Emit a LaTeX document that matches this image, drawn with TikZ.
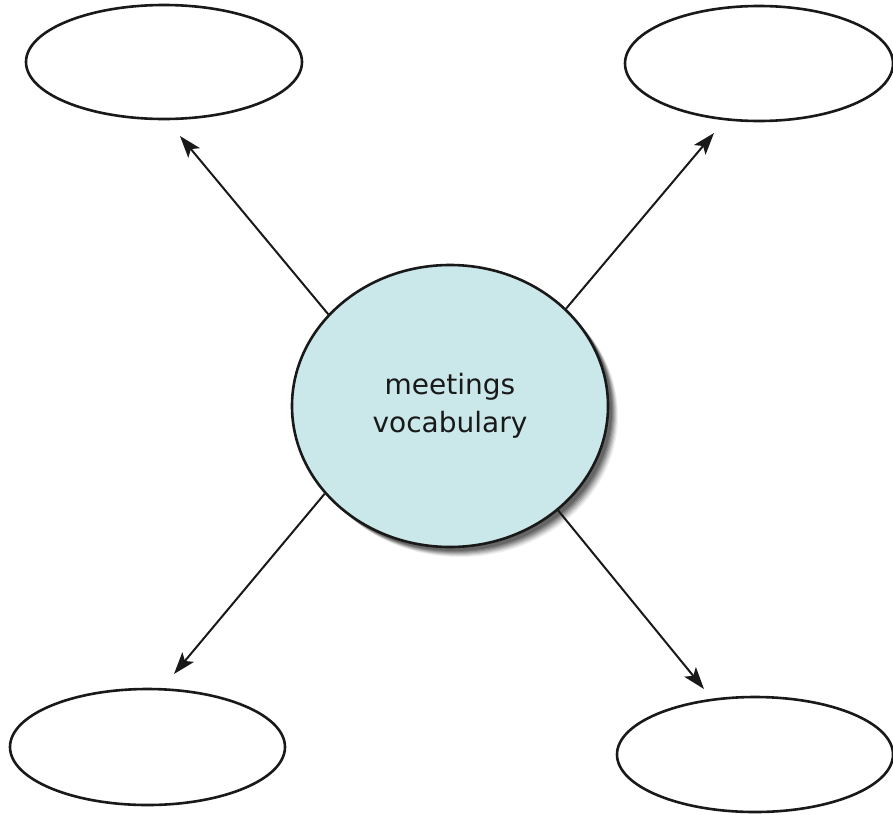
\documentclass[tikz,border=0pt]{standalone}
\usepackage{fontspec}
\setmainfont{DejaVu Sans}
\usetikzlibrary{shapes.geometric,arrows.meta}
\definecolor{centerfill}{RGB}{202,232,233}
\definecolor{inkc}{RGB}{25,25,25}
\begin{document}
\begin{tikzpicture}[x=1pt,y=-1pt,
  bubble/.style={ellipse,draw=inkc,line width=2.6pt,inner sep=0pt,fill=white},
  link/.style={draw=inkc,line width=2pt,-{Stealth[length=22pt,width=15pt,inset=5pt]}}]
\useasboundingbox (0,0) rectangle (893,814);
% shadow of centre
\foreach \o/\a in {10/0.06,9/0.08,8/0.10,7/0.12,6/0.14,5/0.16,4/0.18}{
  \fill[black,opacity=\a] (450+\o,406+\o) ellipse [x radius=158, y radius=141];
}
\node[bubble,fill=centerfill,minimum width=316pt,minimum height=282pt,
  font=\fontsize{28}{38}\selectfont,align=center,text=inkc] (c) at (450,406) {meetings\\vocabulary};
\node[bubble,minimum width=276pt,minimum height=114pt] (tl) at (164,62) {};
\node[bubble,minimum width=268pt,minimum height=115pt] (tr) at (759,63.5) {};
\node[bubble,minimum width=275pt,minimum height=116pt] (bl) at (147.5,747) {};
\node[bubble,minimum width=276pt,minimum height=115pt] (br) at (755,754.5) {};
\coordinate (etl) at (180,136);
\coordinate (etr) at (714,133);
\coordinate (ebl) at (174,674);
\coordinate (ebr) at (704,689);
\draw[link] (c.143) -- (etl);
\draw[link] (c.40.5) -- (etr);
\draw[link] (c.215.8) -- (ebl);
\draw[link] (c.316.8) -- (ebr);
\end{tikzpicture}
\end{document}
